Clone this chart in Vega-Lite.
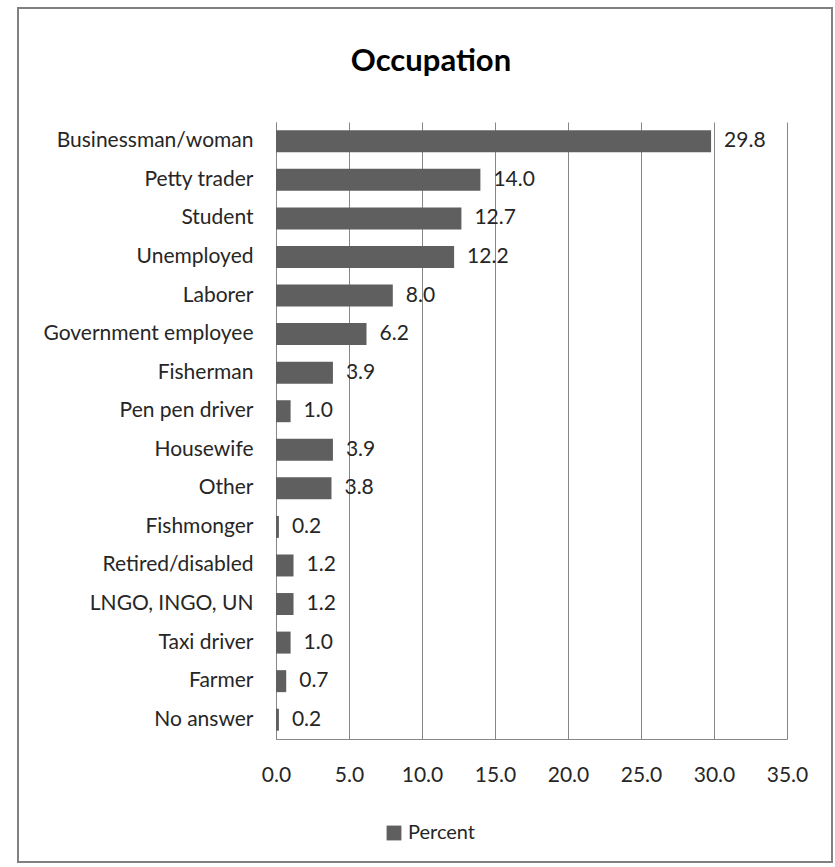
{
  "$schema": "https://vega.github.io/schema/vega-lite/v6.json",
  "width": 814,
  "height": 854,
  "autosize": {"type": "none"},
  "padding": {"left": 18, "top": 8, "right": 3, "bottom": 5},
  "background": "white",
  "title": {
    "text": "Occupation",
    "font": "Lato",
    "fontSize": 31,
    "fontWeight": "bold",
    "color": "#000000",
    "anchor": "middle",
    "frame": "group",
    "offset": -70,
    "dx": 6
  },
  "config": {
    "view": {"stroke": "#808080", "strokeWidth": 2},
    "axis": {"labelFont": "Lato", "labelFontSize": 21, "labelColor": "#262626"}
  },
  "data": {
    "values": [
      {"occupation": "Businessman/woman", "percent": 29.8},
      {"occupation": "Petty trader", "percent": 14.0},
      {"occupation": "Student", "percent": 12.7},
      {"occupation": "Unemployed", "percent": 12.2},
      {"occupation": "Laborer", "percent": 8.0},
      {"occupation": "Government employee", "percent": 6.2},
      {"occupation": "Fisherman", "percent": 3.9},
      {"occupation": "Pen pen driver", "percent": 1.0},
      {"occupation": "Housewife", "percent": 3.9},
      {"occupation": "Other", "percent": 3.8},
      {"occupation": "Fishmonger", "percent": 0.2},
      {"occupation": "Retired/disabled", "percent": 1.2},
      {"occupation": "LNGO, INGO, UN", "percent": 1.2},
      {"occupation": "Taxi driver", "percent": 1.0},
      {"occupation": "Farmer", "percent": 0.7},
      {"occupation": "No answer", "percent": 0.2}
    ]
  },
  "encoding": {
    "y": {
      "field": "occupation",
      "type": "nominal",
      "sort": null,
      "scale": {"range": [114, 731], "paddingInner": 0.43, "paddingOuter": 0.215},
      "axis": {
        "title": null,
        "orient": "left",
        "offset": -258,
        "ticks": false,
        "labelPadding": 23,
        "labelLimit": 300,
        "domainColor": "#868686",
        "domainWidth": 1
      }
    }
  },
  "layer": [
    {
      "mark": {"type": "bar"},
      "encoding": {
        "x": {
          "field": "percent",
          "type": "quantitative",
          "scale": {"domain": [0, 35], "range": [258, 769], "nice": false},
          "axis": {
            "title": null,
            "orient": "bottom",
            "offset": -123,
            "grid": false,
            "ticks": false,
            "values": [0, 5, 10, 15, 20, 25, 30, 35],
            "format": ".1f",
            "labelPadding": 25,
            "labelFlush": false,
            "labelOverlap": false,
            "domainColor": "#868686",
            "domainWidth": 1
          }
        },
        "color": {
          "datum": "Percent",
          "scale": {"range": ["#5f5f5f"]},
          "legend": {
            "title": null,
            "orient": "none",
            "legendX": 366,
            "legendY": 815,
            "symbolType": "square",
            "symbolSize": 220,
            "symbolStrokeWidth": 0,
            "labelFont": "Lato",
            "labelFontSize": 20,
            "labelColor": "#262626",
            "labelOffset": 4
          }
        }
      }
    },
    {
      "mark": {"type": "text", "align": "left", "baseline": "middle", "dx": 13, "font": "Lato", "fontSize": 21, "color": "#262626"},
      "encoding": {
        "x": {
          "field": "percent",
          "type": "quantitative",
          "scale": {"domain": [0, 35], "range": [258, 769], "nice": false},
          "axis": {
            "title": null,
            "orient": "top",
            "offset": 0,
            "grid": true,
            "gridColor": "#868686",
            "gridWidth": 1,
            "labels": false,
            "ticks": false,
            "domain": false,
            "values": [0, 5, 10, 15, 20, 25, 30, 35]
          }
        },
        "text": {"field": "percent", "type": "quantitative", "format": ".1f"}
      }
    }
  ],
  "resolve": {"axis": {"x": "independent"}}
}
